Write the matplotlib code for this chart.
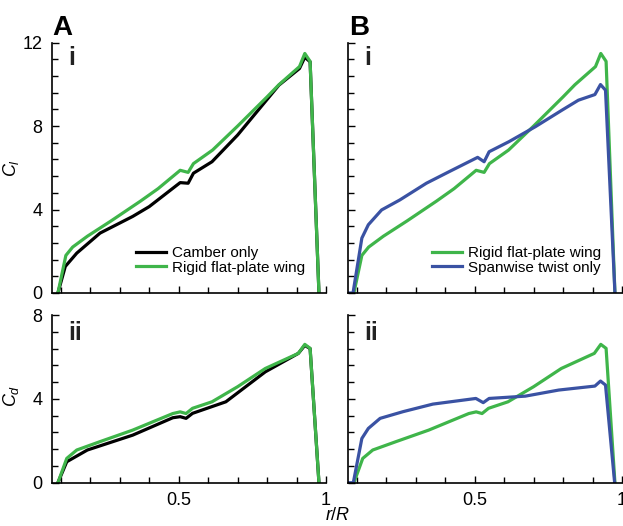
import matplotlib
matplotlib.use('Agg')
import matplotlib.pyplot as plt
from matplotlib.ticker import AutoMinorLocator, FixedLocator

plt.rcParams['font.family'] = ['Liberation Sans', 'DejaVu Sans']
plt.rcParams['mathtext.fontset'] = 'custom'
plt.rcParams['mathtext.rm'] = 'Liberation Sans'
plt.rcParams['mathtext.it'] = 'Liberation Sans:italic'

GREEN = '#3fb54a'
BLUE = '#3a52a3'
BLACK = '#000000'

# lift coefficient along the span
r_cl_rigid = [0.09, 0.117, 0.14, 0.19, 0.27, 0.37, 0.43, 0.505, 0.532, 0.55,
              0.615, 0.70, 0.80, 0.84, 0.91, 0.928, 0.946, 0.976]
cl_rigid = [0, 1.8, 2.2, 2.72, 3.45, 4.4, 5.0, 5.88, 5.78, 6.2,
            6.85, 8.0, 9.4, 9.98, 10.85, 11.48, 11.1, 0]

r_cl_camber = [0.09, 0.115, 0.154, 0.233, 0.344, 0.40, 0.505, 0.532, 0.55,
               0.613, 0.70, 0.84, 0.91, 0.928, 0.946, 0.976]
cl_camber = [0, 1.27, 1.91, 2.87, 3.67, 4.14, 5.29, 5.26, 5.74,
             6.29, 7.57, 9.96, 10.76, 11.3, 11.08, 0]

r_cl_twist = [0.07, 0.087, 0.117, 0.139, 0.184, 0.246, 0.336, 0.414, 0.51, 0.532,
              0.549, 0.616, 0.706, 0.796, 0.852, 0.908, 0.927, 0.944, 0.976]
cl_twist = [0, 0, 2.63, 3.27, 3.98, 4.46, 5.26, 5.82, 6.5, 6.29,
            6.77, 7.25, 7.97, 8.76, 9.24, 9.51, 9.99, 9.72, 0]

# drag coefficient along the span
r_cd_rigid = [0.09, 0.12, 0.154, 0.233, 0.344, 0.48, 0.505, 0.525, 0.547,
              0.613, 0.70, 0.794, 0.906, 0.928, 0.946, 0.976]
cd_rigid = [0, 1.16, 1.56, 1.96, 2.51, 3.3, 3.38, 3.3, 3.55,
            3.86, 4.58, 5.45, 6.17, 6.6, 6.41, 0]

r_cd_camber = [0.09, 0.12, 0.19, 0.344, 0.48, 0.505, 0.525, 0.547,
               0.66, 0.794, 0.906, 0.928, 0.946, 0.976]
cd_camber = [0, 1.0, 1.56, 2.27, 3.1, 3.15, 3.07, 3.31,
             3.86, 5.29, 6.17, 6.55, 6.4, 0]

r_cd_twist = [0.07, 0.088, 0.117, 0.139, 0.179, 0.257, 0.358, 0.504, 0.529,
              0.549, 0.672, 0.785, 0.908, 0.927, 0.944, 0.975]
cd_twist = [0, 0, 2.11, 2.59, 3.07, 3.39, 3.75, 4.02, 3.82,
            4.02, 4.13, 4.42, 4.61, 4.85, 4.66, 0]

x_ticks = [0.5, 1.0]
x_ticklabels = ['0.5', '1']
cl_ticks = [0, 4, 8, 12]
cd_ticks = [0, 4, 8]


def style_axis(ax, yticks, ymax, show_x, show_y):
    ax.set_xlim(0.07, 1.0)
    ax.set_ylim(0, ymax)
    for side in ['top', 'right']:
        ax.spines[side].set_visible(False)
    for side in ['left', 'bottom']:
        ax.spines[side].set_linewidth(1.2)
    ax.xaxis.set_major_locator(FixedLocator(x_ticks))
    ax.set_xticklabels(x_ticklabels if show_x else [])
    ax.xaxis.set_minor_locator(AutoMinorLocator(5))
    ax.set_yticks(yticks)
    if not show_y:
        ax.set_yticklabels([])
    ax.yaxis.set_minor_locator(AutoMinorLocator(5))
    ax.tick_params(which='both', direction='in', width=1.0, labelsize=13, pad=7)
    ax.tick_params(which='major', length=5)
    ax.tick_params(which='minor', length=4)


fig = plt.figure(figsize=(6.23, 5.26), dpi=100)
ax_a1 = fig.add_axes([0.0835, 0.443, 0.4398, 0.476])
ax_b1 = fig.add_axes([0.5586, 0.443, 0.4398, 0.476])
ax_a2 = fig.add_axes([0.0835, 0.0823, 0.4398, 0.3188])
ax_b2 = fig.add_axes([0.5586, 0.0823, 0.4398, 0.3188])

lw = 2.3

# A: camber vs rigid plate
ax_a1.plot(r_cl_camber, cl_camber, color=BLACK, lw=lw, label='Camber only')
ax_a1.plot(r_cl_rigid, cl_rigid, color=GREEN, lw=lw, label='Rigid flat-plate wing')
ax_a2.plot(r_cd_camber, cd_camber, color=BLACK, lw=lw)
ax_a2.plot(r_cd_rigid, cd_rigid, color=GREEN, lw=lw)

# B: rigid plate vs spanwise twist
ax_b1.plot(r_cl_rigid, cl_rigid, color=GREEN, lw=lw, label='Rigid flat-plate wing')
ax_b1.plot(r_cl_twist, cl_twist, color=BLUE, lw=lw, label='Spanwise twist only')
ax_b2.plot(r_cd_rigid, cd_rigid, color=GREEN, lw=lw)
ax_b2.plot(r_cd_twist, cd_twist, color=BLUE, lw=lw)

style_axis(ax_a1, cl_ticks, 12, False, True)
style_axis(ax_b1, cl_ticks, 12, False, False)
style_axis(ax_a2, cd_ticks, 8, True, True)
style_axis(ax_b2, cd_ticks, 8, True, False)

for ax in [ax_a1, ax_b1]:
    ax.legend(loc='center left', bbox_to_anchor=(0.305, 0.13), frameon=False,
              fontsize=11, handlelength=2.0, handletextpad=0.4,
              labelspacing=0.05, borderpad=0, borderaxespad=0)

ax_a1.set_ylabel('$C_l$', fontsize=13)
ax_a1.yaxis.set_label_coords(-0.115, 0.5)
ax_a2.set_ylabel('$C_d$', fontsize=13)
ax_a2.yaxis.set_label_coords(-0.115, 0.52)
fig.text(338 / 623, 1 - 520 / 526, '$r/R$', fontsize=13, ha='center', va='baseline')

# panel letters and row numerals
fig.text(52 / 623, 1 - 35 / 526, 'A', fontsize=20, weight='bold', ha='left', va='baseline')
fig.text(349 / 623, 1 - 35 / 526, 'B', fontsize=20, weight='bold', ha='left', va='baseline')
for ax in [ax_a1, ax_b1]:
    ax.text(0.058, 0.912, 'i', transform=ax.transAxes, fontsize=18,
            weight='bold', va='baseline', color='#222222')
for ax in [ax_a2, ax_b2]:
    ax.text(0.058, 0.851, 'ii', transform=ax.transAxes, fontsize=18,
            weight='bold', va='baseline', color='#222222')

fig.savefig('out.png', dpi=100)
